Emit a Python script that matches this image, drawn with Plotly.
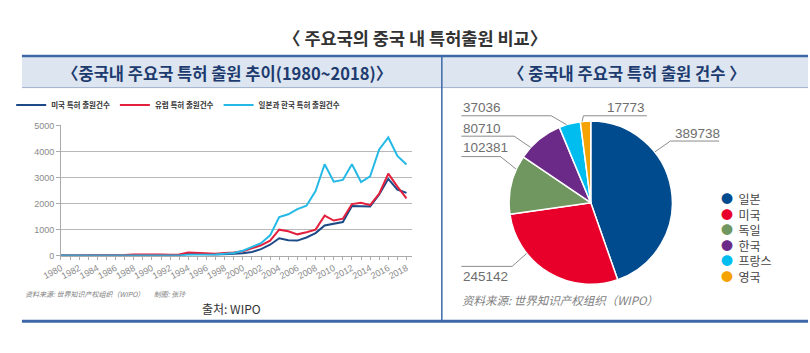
import math
import plotly.graph_objects as go

# ---------------- data ----------------
years = list(range(1980, 2019))
us_apps = [5, 5, 5, 5, 5, 5, 8, 10, 20, 25, 30, 25, 20, 20, 70, 60, 40, 45, 55, 70,
           90, 140, 250, 420, 670, 590, 580, 700, 870, 1160, 1220, 1290, 1910, 1910,
           1890, 2350, 2950, 2540, 2410]
eu_apps = [5, 5, 5, 5, 8, 10, 15, 25, 50, 55, 60, 50, 40, 50, 120, 110, 80, 75, 100, 120,
           170, 280, 400, 580, 1000, 940, 820, 900, 1000, 1540, 1350, 1420, 1980, 2030,
           1940, 2380, 3150, 2650, 2200]
jk_apps = [3, 3, 3, 3, 3, 3, 3, 4, 5, 5, 5, 5, 5, 10, 40, 40, 45, 50, 70, 100,
           190, 320, 480, 780, 1480, 1590, 1790, 1920, 2480, 3510, 2840, 2910, 3510, 2830,
           3050, 4080, 4540, 3830, 3500]
line_names = ["미국 특허 출원건수", "유럽 특허 출원건수", "일본과 한국 특허 출원건수"]

countries = ["일본", "미국", "독일", "한국", "프랑스", "영국"]
counts = [389738, 245142, 102381, 80710, 37036, 17773]

# ---------------- style ----------------
W, H = 810, 353
KR = "Noto Sans CJK KR"
SC = "Noto Sans CJK SC"
LAT = "Liberation Sans, Arial, Noto Sans CJK KR"
line_colors = ["#1c4a87", "#e3203d", "#25b9e6"]
pie_colors = ["#004b8d", "#e8002b", "#6f975f", "#6b2a88", "#00bdf0", "#f5a300"]
BLUE = "#3d68a8"


def px(x):
    return x / W


def py(y):
    return 1 - y / H


fig = go.Figure()

for name, vals, col in zip(line_names, [us_apps, eu_apps, jk_apps], line_colors):
    fig.add_trace(go.Scatter(x=years, y=vals, mode="lines", name=name,
                             line=dict(color=col, width=2), xaxis="x", yaxis="y"))

# pie
cx, cy, R = 585.5, 203.5, 84
fig.add_trace(go.Pie(labels=countries, values=counts, sort=False, direction="clockwise",
                     rotation=0, textinfo="none", showlegend=False,
                     marker=dict(colors=pie_colors, line=dict(color="white", width=1.5)),
                     domain=dict(x=[px(cx - R), px(cx + R)], y=[py(cy + R), py(cy - R)])))

shapes = []
annotations = []

# frame
shapes.append(dict(type="rect", xref="paper", yref="paper", x0=px(3), x1=px(808),
                   y0=py(85), y1=py(53), fillcolor="#dce5f0", line=dict(width=0), layer="below"))
shapes.append(dict(type="line", xref="paper", yref="paper", x0=px(3), x1=px(808),
                   y0=py(85), y1=py(85), line=dict(color="#9fb2cc", width=1)))
shapes.append(dict(type="line", xref="paper", yref="paper", x0=px(3), x1=px(808),
                   y0=py(52.5), y1=py(52.5), line=dict(color=BLUE, width=2.5)))
shapes.append(dict(type="line", xref="paper", yref="paper", x0=px(433), x1=px(433),
                   y0=py(53), y1=py(325), line=dict(color=BLUE, width=1.5)))
shapes.append(dict(type="line", xref="paper", yref="paper", x0=px(3), x1=px(808),
                   y0=py(325.5), y1=py(325.5), line=dict(color=BLUE, width=3)))

annotations.append(dict(text="〈 주요국의 중국 내 특허출원 비교〉", xref="paper", yref="paper",
                        x=0.5, y=py(33), showarrow=False,
                        font=dict(family=KR, size=17.5, color="#333333", weight="bold"),
                        xanchor="center", yanchor="middle"))
annotations.append(dict(text="〈중국내 주요국 특허 출원 추이(1980~2018)〉", xref="paper", yref="paper",
                        x=px(213), y=py(70), showarrow=False,
                        font=dict(family=KR, size=16.5, color="#1d3b6e", weight="bold"),
                        xanchor="center", yanchor="middle"))
annotations.append(dict(text="〈 중국내 주요국 특허 출원 건수 〉", xref="paper", yref="paper",
                        x=px(623), y=py(70), showarrow=False,
                        font=dict(family=KR, size=16.5, color="#1d3b6e", weight="bold"),
                        xanchor="center", yanchor="middle"))

# sources
annotations.append(dict(text="<i>资料来源: 世界知识产权组织（WIPO）      制图: 张玲</i>", xref="paper", yref="paper",
                        x=px(4), y=py(297), showarrow=False, xanchor="left", yanchor="middle",
                        font=dict(family=SC, size=7, color="#808080")))
annotations.append(dict(text="출처: WIPO", xref="paper", yref="paper",
                        x=px(218), y=py(312), showarrow=False, xanchor="center", yanchor="middle",
                        font=dict(family=KR, size=12, color="#333333")))
annotations.append(dict(text="<i>资料来源: 世界知识产权组织（WIPO）</i>", xref="paper", yref="paper",
                        x=px(452), y=py(304), showarrow=False, xanchor="left", yanchor="middle",
                        font=dict(family=SC, size=11.5, color="#808080")))

# pie value labels with leader lines
label_style = {
    # text x, text y, xanchor, line y, line x0, line x1, elbow x, fraction in slice
    "일본": (670, 132, "left", 140, 667, 717, 667, 0.32),
    "미국": (453, 279, "left", 269, 453, 505, 505, 0.70),
    "독일": (453, 147, "left", 156, 453, 493, 493, 0.77),
    "한국": (453, 127, "left", 135, 453, 507, 507, 0.26),
    "프랑스": (453, 106, "left", 114, 453, 545, 545, 0.36),
    "영국": (643, 106, "right", 114, 578, 643, 578, 0.17),
}
total = sum(counts)
cum = 0.0
for name, v in zip(countries, counts):
    start = cum / total * 360
    span = v / total * 360
    cum += v
    tx, ty, xa, ly, lx0, lx1, ex, frac = label_style[name]
    th = math.radians(start + frac * span)
    axp = cx + R * math.sin(th)
    ayp = cy - R * math.cos(th)
    annotations.append(dict(text=f"{v}", xref="paper", yref="paper", x=px(tx), y=py(ty),
                            showarrow=False, xanchor=xa, yanchor="middle",
                            font=dict(family=LAT, size=13.5, color="#6e6e6e")))
    path = f"M {px(lx0 if ex == lx1 else lx1)} {py(ly)} L {px(ex)} {py(ly)} L {px(axp)} {py(ayp)}"
    shapes.append(dict(type="path", xref="paper", yref="paper", path=path,
                       line=dict(color="#8c8c8c", width=1)))

# pie legend (circles), one multi-line text block
legend_lines = [f"<span style='color:{col}'>●</span>  {name}" for name, col in zip(countries, pie_colors)]
annotations.append(dict(text="<br>".join(legend_lines), xref="paper", yref="paper",
                        x=px(717), y=py(188), showarrow=False, xanchor="left", yanchor="top",
                        align="left", font=dict(family=KR, size=12, color="#444444")))

fig.update_layout(
    width=W, height=H, margin=dict(l=0, r=0, t=0, b=0),
    paper_bgcolor="white", plot_bgcolor="white",
    showlegend=True,
    legend=dict(orientation="h", x=px(-8), y=py(88), xanchor="left", yanchor="top",
                font=dict(family=KR, size=7.5, color="#333333", weight="bold"),
                bgcolor="rgba(0,0,0,0)", itemwidth=30, tracegroupgap=0),
    xaxis=dict(domain=[px(43), px(402)], range=[1980, 2018.56], tick0=1980, dtick=2,
               tickangle=-28, ticks="outside", ticklen=3, tickcolor="#aaaaaa",
               showline=True, linecolor="#aaaaaa", showgrid=False, zeroline=False,
               minor=dict(dtick=1, ticks="outside", ticklen=3, tickcolor="#aaaaaa"),
               tickfont=dict(family=LAT, size=9, color="#8a8a8a"), anchor="y"),
    yaxis=dict(domain=[py(258), py(124)], range=[0, 5000], dtick=1000,
               ticks="outside", ticklen=4, tickcolor="#aaaaaa",
               showline=True, linecolor="#aaaaaa", gridcolor="#b8b8b8", zeroline=False,
               tickfont=dict(family=LAT, size=9, color="#8a8a8a"), anchor="x"),
    shapes=shapes, annotations=annotations,
)

fig.write_html("out.html")
